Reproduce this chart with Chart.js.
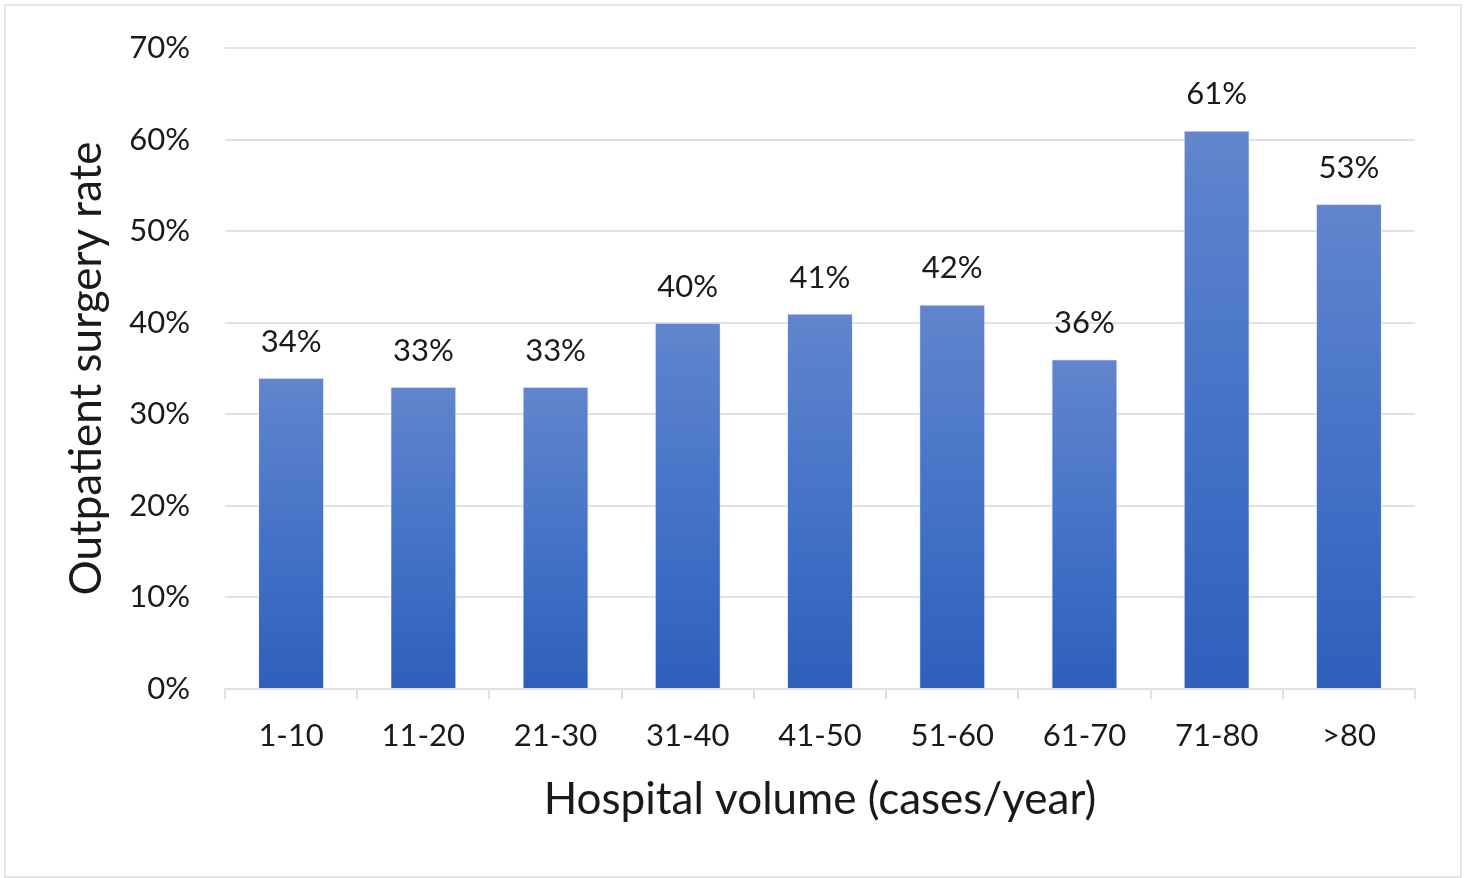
<!DOCTYPE html>
<html>
<head>
<meta charset="utf-8">
<title>Outpatient surgery rate by hospital volume</title>
<script src="https://cdn.jsdelivr.net/npm/chart.js@4.4.1/dist/chart.umd.min.js"></script>
<style>
  html, body { margin: 0; padding: 0; background: #fff; }
  .wrap { position: relative; width: 1470px; height: 878px; }
  .frame {
    position: absolute; left: 4px; top: 4px; width: 1454px; height: 870px;
    border: 2px solid #e1e5ec; pointer-events: none;
  }
  canvas { position: absolute; left: 0; top: 0; }
</style>
</head>
<body>
<div class="wrap">
  <canvas id="volumeChart" width="1470" height="878"></canvas>
  <div class="frame"></div>
</div>
<script>
const volumeGroups = ["1-10", "11-20", "21-30", "31-40", "41-50", "51-60", "61-70", "71-80", ">80"];
const outpatientRate = [34, 33, 33, 40, 41, 42, 36, 61, 53];
const yTickValues = [0, 10, 20, 30, 40, 50, 60, 70];

const fontFamily = "Lato, 'Open Sans', sans-serif";
const textColor = "#1a1a1a";
const gridColor = "#dde1e8";

// per-bar vertical gradient, lighter at the top
const barFill = (ctx) => {
  const chart = ctx.chart;
  const { chartArea, scales } = chart;
  if (!chartArea || ctx.type !== "data") return "#3f6cc4";
  const top = scales.y.getPixelForValue(ctx.raw);
  const base = scales.y.getPixelForValue(0);
  const g = chart.ctx.createLinearGradient(0, top, 0, base);
  g.addColorStop(0, "#6285cd");
  g.addColorStop(0.5, "#4573c8");
  g.addColorStop(1, "#2e5fbb");
  return g;
};

// value labels above each bar
const valueLabels = {
  id: "valueLabels",
  afterDatasetsDraw(chart) {
    const { ctx } = chart;
    const meta = chart.getDatasetMeta(0);
    ctx.save();
    ctx.font = "31px " + fontFamily;
    ctx.fillStyle = textColor;
    ctx.textAlign = "center";
    ctx.textBaseline = "alphabetic";
    meta.data.forEach((bar, i) => {
      ctx.fillText(outpatientRate[i] + "%", bar.x, bar.y - 26);
    });
    ctx.restore();
  },
};

new Chart(document.getElementById("volumeChart"), {
  type: "bar",
  data: {
    labels: volumeGroups,
    datasets: [
      {
        data: outpatientRate,
        backgroundColor: barFill,
        borderColor: "rgba(235,240,250,0.8)",
        borderWidth: 1,
        categoryPercentage: 1,
        barPercentage: 0.5,
      },
    ],
  },
  options: {
    responsive: false,
    animation: false,
    devicePixelRatio: 1,
    layout: { padding: { top: 48, right: 55, left: 0, bottom: 0 } },
    plugins: {
      legend: { display: false },
      tooltip: { enabled: false },
    },
    scales: {
      x: {
        grid: {
          offset: true,
          drawOnChartArea: false,
          color: gridColor,
          lineWidth: 2,
          tickLength: 10,
        },
        border: { display: true, color: gridColor, width: 2 },
        ticks: {
          color: textColor,
          font: { family: fontFamily, size: 31 },
          padding: 18,
          maxRotation: 0,
        },
        title: {
          display: true,
          text: "Hospital volume (cases/year)",
          color: textColor,
          font: { family: fontFamily, size: 44 },
          padding: { top: 0, bottom: 52 },
        },
        afterFit(scale) {
          scale.height = 189;
          scale.paddingLeft = 0;
          scale.paddingRight = 0;
        },
      },
      y: {
        min: 0,
        max: 70,
        afterBuildTicks(scale) {
          scale.ticks = yTickValues.map((v) => ({ value: v }));
        },
        grid: { color: gridColor, lineWidth: 2, drawTicks: false },
        border: { display: false },
        ticks: {
          color: textColor,
          font: { family: fontFamily, size: 31 },
          padding: 35,
          callback: (v) => v + "%",
        },
        title: {
          display: true,
          text: "Outpatient surgery rate",
          color: textColor,
          font: { family: fontFamily, size: 44 },
          padding: { top: 60, bottom: 0 },
        },
        afterFit(scale) {
          scale.width = 225;
          scale.paddingTop = 0;
          scale.paddingBottom = 0;
        },
      },
    },
  },
  plugins: [valueLabels],
});
</script>
</body>
</html>
